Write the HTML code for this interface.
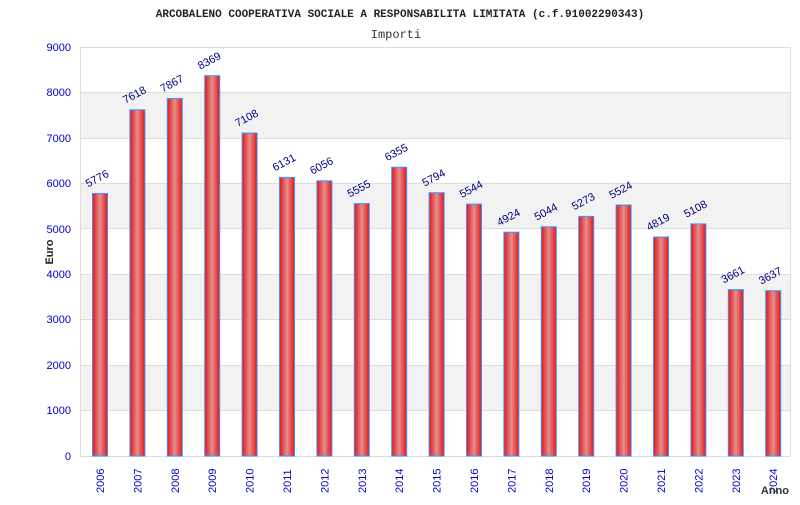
<!DOCTYPE html><html><head><style>body{margin:0;background:#fff}</style></head><body>
<svg width="800" height="500" xmlns="http://www.w3.org/2000/svg" font-family="Liberation Sans, sans-serif">
<defs><linearGradient id="g" x1="0" x2="1" y1="0" y2="0"><stop offset="0" stop-color="#ee1111"/><stop offset="0.5" stop-color="#e09090"/><stop offset="1" stop-color="#ee1111"/></linearGradient></defs>
<text x="400" y="17" text-anchor="middle" font-family="Liberation Mono, monospace" font-size="11" font-weight="bold" fill="#222">ARCOBALENO COOPERATIVA SOCIALE A RESPONSABILITA LIMITATA (c.f.91002290343)</text>
<text x="396" y="38" text-anchor="middle" font-family="Liberation Mono, monospace" font-size="12" fill="#333">Importi</text>
<g fill="#f2f2f2">
<rect x="80" y="92.6" width="710" height="45.4"/><rect x="80" y="183.4" width="710" height="45.4"/><rect x="80" y="274.2" width="710" height="45.4"/><rect x="80" y="365.1" width="710" height="45.4"/></g>
<g stroke="#ddd" stroke-width="1">
<line x1="80" x2="790" y1="47.5" y2="47.5"/><line x1="80" x2="790" y1="92.5" y2="92.5"/><line x1="80" x2="790" y1="138.5" y2="138.5"/><line x1="80" x2="790" y1="183.5" y2="183.5"/><line x1="80" x2="790" y1="228.5" y2="228.5"/><line x1="80" x2="790" y1="274.5" y2="274.5"/><line x1="80" x2="790" y1="319.5" y2="319.5"/><line x1="80" x2="790" y1="365.5" y2="365.5"/><line x1="80" x2="790" y1="410.5" y2="410.5"/>
<line x1="80.5" x2="80.5" y1="47" y2="456"/><line x1="790.5" x2="790.5" y1="47" y2="456"/><line x1="80" x2="790" y1="456.5" y2="456.5"/></g>
<g fill="#0000cc" font-size="11" text-anchor="end">
<text x="71" y="51">9000</text><text x="71" y="96">8000</text><text x="71" y="142">7000</text><text x="71" y="187">6000</text><text x="71" y="233">5000</text><text x="71" y="278">4000</text><text x="71" y="323">3000</text><text x="71" y="369">2000</text><text x="71" y="414">1000</text><text x="71" y="460">0</text></g>
<text transform="translate(53,252) rotate(-90)" text-anchor="middle" font-size="11" font-weight="bold" fill="#222">Euro</text>
<g fill="url(#g)" stroke="#3399ff" stroke-width="1">
<rect x="92.5" y="193.5" width="15" height="262.5"/>
<rect x="129.9" y="109.8" width="15" height="346.2"/>
<rect x="167.3" y="98.5" width="15" height="357.5"/>
<rect x="204.7" y="75.7" width="15" height="380.3"/>
<rect x="242.1" y="133" width="15" height="323"/>
<rect x="279.5" y="177.4" width="15" height="278.6"/>
<rect x="316.9" y="180.8" width="15" height="275.2"/>
<rect x="354.3" y="203.6" width="15" height="252.4"/>
<rect x="391.7" y="167.2" width="15" height="288.8"/>
<rect x="429.1" y="192.7" width="15" height="263.3"/>
<rect x="466.5" y="204.1" width="15" height="251.9"/>
<rect x="503.9" y="232.2" width="15" height="223.8"/>
<rect x="541.3" y="226.8" width="15" height="229.2"/>
<rect x="578.7" y="216.4" width="15" height="239.6"/>
<rect x="616.1" y="205" width="15" height="251"/>
<rect x="653.5" y="237" width="15" height="219"/>
<rect x="690.9" y="223.9" width="15" height="232.1"/>
<rect x="728.3" y="289.6" width="15" height="166.4"/>
<rect x="765.7" y="290.7" width="15" height="165.3"/>
</g>
<g font-size="11" fill="#000080">
<text transform="translate(88,187.5) rotate(-28)">5776</text>
<text transform="translate(125.4,103.8) rotate(-28)">7618</text>
<text transform="translate(162.8,92.5) rotate(-28)">7867</text>
<text transform="translate(200.2,69.7) rotate(-28)">8369</text>
<text transform="translate(237.6,127) rotate(-28)">7108</text>
<text transform="translate(275,171.4) rotate(-28)">6131</text>
<text transform="translate(312.4,174.8) rotate(-28)">6056</text>
<text transform="translate(349.8,197.6) rotate(-28)">5555</text>
<text transform="translate(387.2,161.2) rotate(-28)">6355</text>
<text transform="translate(424.6,186.7) rotate(-28)">5794</text>
<text transform="translate(462,198.1) rotate(-28)">5544</text>
<text transform="translate(499.4,226.2) rotate(-28)">4924</text>
<text transform="translate(536.8,220.8) rotate(-28)">5044</text>
<text transform="translate(574.2,210.4) rotate(-28)">5273</text>
<text transform="translate(611.6,199) rotate(-28)">5524</text>
<text transform="translate(649,231) rotate(-28)">4819</text>
<text transform="translate(686.4,217.9) rotate(-28)">5108</text>
<text transform="translate(723.8,283.6) rotate(-28)">3661</text>
<text transform="translate(761.2,284.7) rotate(-28)">3637</text>
</g>
<g font-size="11" fill="#0000cc">
<text transform="translate(104,493) rotate(-90)">2006</text>
<text transform="translate(141.4,493) rotate(-90)">2007</text>
<text transform="translate(178.8,493) rotate(-90)">2008</text>
<text transform="translate(216.2,493) rotate(-90)">2009</text>
<text transform="translate(253.6,493) rotate(-90)">2010</text>
<text transform="translate(291,493) rotate(-90)">2011</text>
<text transform="translate(328.4,493) rotate(-90)">2012</text>
<text transform="translate(365.8,493) rotate(-90)">2013</text>
<text transform="translate(403.2,493) rotate(-90)">2014</text>
<text transform="translate(440.6,493) rotate(-90)">2015</text>
<text transform="translate(478,493) rotate(-90)">2016</text>
<text transform="translate(515.4,493) rotate(-90)">2017</text>
<text transform="translate(552.8,493) rotate(-90)">2018</text>
<text transform="translate(590.2,493) rotate(-90)">2019</text>
<text transform="translate(627.6,493) rotate(-90)">2020</text>
<text transform="translate(665,493) rotate(-90)">2021</text>
<text transform="translate(702.4,493) rotate(-90)">2022</text>
<text transform="translate(739.8,493) rotate(-90)">2023</text>
<text transform="translate(777.2,493) rotate(-90)">2024</text>
</g>
<text x="789" y="494" text-anchor="end" font-size="11" font-weight="bold" fill="#333">Anno</text>
</svg></body></html>
